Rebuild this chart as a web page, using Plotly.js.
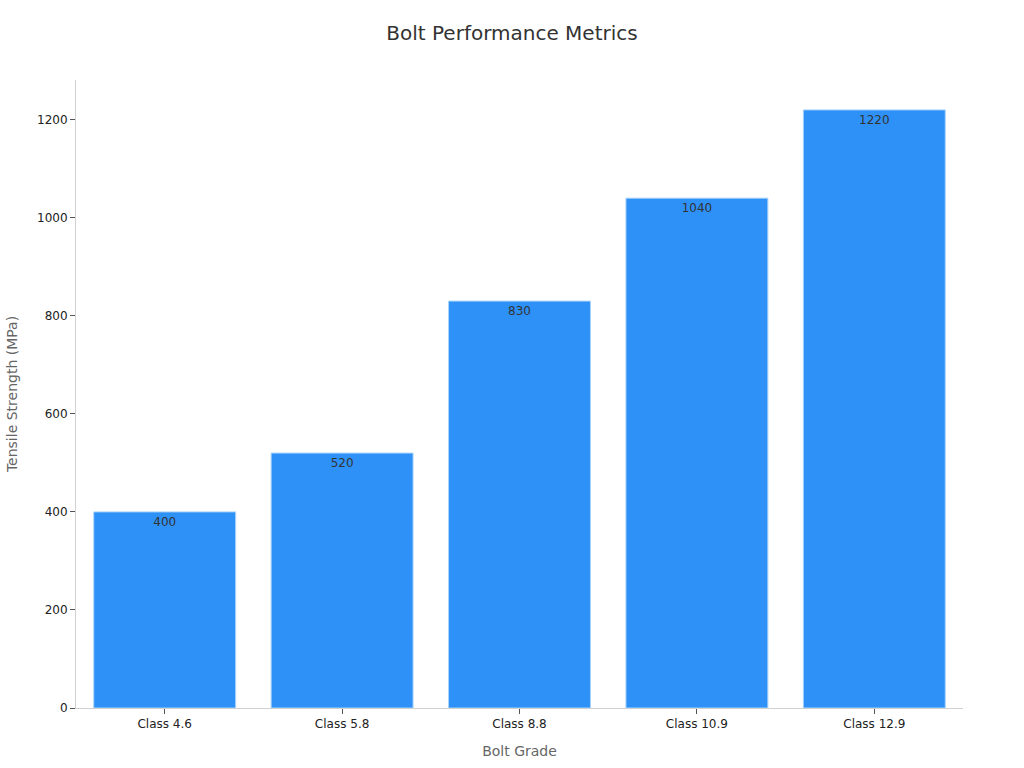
<!DOCTYPE html>
<html>
<head>
<meta charset="utf-8">
<script src="https://cdn.plot.ly/plotly-3.0.1.min.js"></script>
<style>html,body{margin:0;padding:0;background:#fff;}#chart{width:1024px;height:768px;}</style>
</head>
<body>
<div id="chart"></div>
<script>
const categories = ["Class 4.6", "Class 5.8", "Class 8.8", "Class 10.9", "Class 12.9"];
const tensileStrength = [400, 520, 830, 1040, 1220];

const trace = {
  type: "bar",
  x: categories,
  y: tensileStrength,
  text: tensileStrength.map(String),
  textposition: "inside",
  insidetextanchor: "end",
  textfont: {family: "DejaVu Sans", size: 12, color: "#333333"},
  marker: {color: "#2E91F8", line: {color: "#A9D3FA", width: 1}},
  hoverinfo: "x+y"
};

const layout = {
  width: 1024,
  height: 768,
  margin: {l: 76, r: 61, t: 80, b: 60},
  paper_bgcolor: "#ffffff",
  plot_bgcolor: "#ffffff",
  font: {family: "DejaVu Sans", size: 12, color: "#222222"},
  title: {text: "Bolt Performance Metrics", x: 0.5, xanchor: "center", y: 0.957, yanchor: "middle", font: {family: "DejaVu Sans", size: 20, color: "#333333"}},
  bargap: 0.2,
  showlegend: false,
  xaxis: {
    title: {text: "Bolt Grade", font: {size: 14, color: "#666666"}, standoff: 15},
    showline: true, linecolor: "#d0d0d0", linewidth: 1,
    ticks: "outside", ticklen: 5, tickcolor: "#555555",
    showgrid: false, tickfont: {size: 12, color: "#222222"}
  },
  yaxis: {
    title: {text: "Tensile Strength (MPa)", font: {size: 14, color: "#666666"}, standoff: 16},
    range: [0, 1281],
    dtick: 200,
    showline: true, linecolor: "#d0d0d0", linewidth: 1,
    ticks: "outside", ticklen: 5, tickcolor: "#555555",
    showgrid: false, zeroline: false, tickfont: {size: 12, color: "#222222"}
  }
};

Plotly.newPlot("chart", [trace], layout, {displayModeBar: false, staticPlot: true});
</script>
</body>
</html>
